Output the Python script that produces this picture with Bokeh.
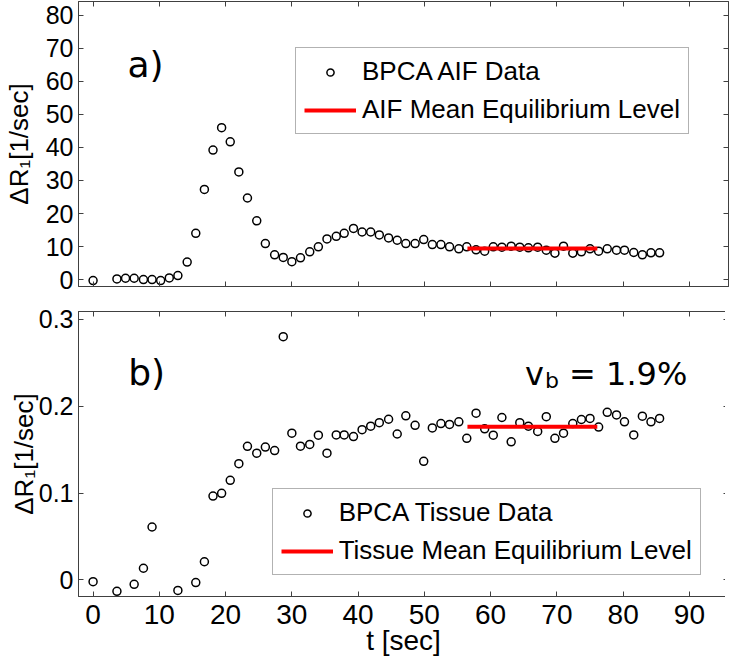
from bokeh.plotting import figure
from bokeh.models import (Range1d, LinearAxis, Legend, LegendItem, Label,
                          FixedTicker, CustomJSTickFormatter)
from bokeh.layouts import column
from bokeh.embed import file_html
from bokeh.resources import INLINE

# ---------------- data ----------------
t_aif = [0.0, 3.6, 4.9, 6.2, 7.6, 8.9, 10.2, 11.5, 12.8, 14.2, 15.5, 16.8, 18.1,
         19.4, 20.7, 22.0, 23.3, 24.7, 26.0, 27.4, 28.7, 30.0, 31.3, 32.7, 34.0,
         35.3, 36.7, 37.9, 39.3, 40.6, 41.9, 43.2, 44.6, 45.9, 47.2, 48.6, 49.9,
         51.2, 52.5, 53.8, 55.2, 56.4, 57.8, 59.1, 60.4, 61.7, 63.1, 64.4, 65.7,
         67.1, 68.4, 69.7, 71.0, 72.4, 73.7, 75.0, 76.3, 77.6, 79.0, 80.2, 81.6,
         82.9, 84.2, 85.5]
aif = [-0.3, 0.2, 0.4, 0.4, 0.0, 0.0, -0.3, 0.5, 1.2, 5.3, 14.0, 27.3, 39.2,
       46.0, 41.7, 32.6, 24.7, 17.8, 10.9, 7.5, 6.7, 5.4, 6.6, 8.4, 9.9,
       12.3, 13.1, 14.0, 15.5, 14.4, 14.4, 13.5, 12.6, 11.9, 10.9, 10.9, 12.1,
       10.6, 10.6, 9.9, 9.3, 9.9, 9.0, 8.6, 9.9, 9.8, 10.1, 9.8, 9.6,
       9.8, 8.9, 8.0, 10.1, 8.0, 8.4, 9.3, 8.6, 9.3, 8.9, 8.9, 8.2,
       7.5, 8.1, 8.1]

t_tis = [0.0, 3.6, 6.2, 7.6, 8.9, 12.8, 15.5, 16.8, 18.1, 19.4, 20.7, 22.0,
         23.3, 24.7, 26.0, 27.4, 28.7, 30.0, 31.3, 32.7, 34.0, 35.3, 36.7, 37.9,
         39.3, 40.6, 41.9, 43.2, 44.6, 45.9, 47.2, 48.6, 49.9, 51.2, 52.5, 53.8,
         55.2, 56.4, 57.8, 59.1, 60.4, 61.7, 63.1, 64.4, 65.7, 67.1, 68.4, 69.7,
         71.0, 72.4, 73.7, 75.0, 76.3, 77.6, 79.0, 80.2, 81.6, 82.9, 84.2, 85.5]
tis = [-0.002, -0.013, -0.005, 0.0135, 0.061, -0.012, -0.003, 0.021, 0.0966,
       0.0997, 0.1147, 0.1339, 0.1538, 0.146, 0.153, 0.149, 0.280, 0.169, 0.154,
       0.156, 0.1666, 0.146, 0.167, 0.167, 0.165, 0.173, 0.177, 0.181, 0.185,
       0.168, 0.189, 0.178, 0.1366, 0.175, 0.180, 0.179, 0.182, 0.163, 0.192,
       0.174, 0.1666, 0.187, 0.159, 0.181, 0.177, 0.171, 0.188, 0.163, 0.169,
       0.180, 0.1847, 0.186, 0.176, 0.193, 0.190, 0.182, 0.167, 0.1885, 0.182,
       0.186]

eq_t = [56.5, 76.1]
aif_eq = [9.4, 9.4]
tis_eq = [0.1764, 0.1764]

x_ticks = [0, 10, 20, 30, 40, 50, 60, 70, 80, 90]
aif_ticks = [0, 10, 20, 30, 40, 50, 60, 70, 80]
tis_ticks = [0, 0.1, 0.2, 0.3]

# ---------------- styling ----------------
FW, FH = 650, 285
AX = "#404040"
TICK_FONT = "Liberation Sans"
blank = CustomJSTickFormatter(code="return ''")
numfmt = CustomJSTickFormatter(code="return String(Math.round(tick*10)/10)")


def style_axis(ax, ticks, show_labels, size="25px", standoff=5):
    ax.ticker = FixedTicker(ticks=ticks)
    ax.major_tick_in = 5
    ax.major_tick_out = 0
    ax.minor_tick_line_color = None
    ax.axis_line_color = AX
    ax.major_tick_line_color = AX
    if show_labels:
        ax.formatter = numfmt
        ax.major_label_text_font = TICK_FONT
        ax.major_label_text_font_size = size
        ax.major_label_text_color = "black"
        ax.major_label_standoff = standoff
    else:
        ax.formatter = blank
        ax.major_label_text_font_size = "1px"
        ax.major_label_standoff = 0


def make_fig(yr, yticks, show_x, top_border, bottom_border, ylab_standoff):
    p = figure(frame_width=FW, frame_height=FH,
               x_range=Range1d(-2.2, 95.9), y_range=Range1d(*yr),
               output_backend="svg", toolbar_location=None,
               min_border_left=72, min_border_right=2,
               min_border_top=top_border, min_border_bottom=bottom_border,
               background_fill_color="white", border_fill_color="white")
    p.xgrid.visible = False
    p.ygrid.visible = False
    p.outline_line_color = AX
    style_axis(p.below[0], x_ticks, show_x, size="28px", standoff=8)
    left = p.left[0]
    style_axis(left, yticks, True)
    left.axis_label = "ΔR₁[1/sec]"
    left.axis_label_text_font = "Liberation Sans"
    left.axis_label_text_font_size = "26px"
    left.axis_label_text_font_style = "normal"
    left.axis_label_text_color = "black"
    left.axis_label_standoff = ylab_standoff
    top = LinearAxis()
    style_axis(top, x_ticks, False)
    p.add_layout(top, "above")
    right = LinearAxis()
    style_axis(right, yticks, False)
    p.add_layout(right, "right")
    return p


def make_legend(items, loc):
    return Legend(items=items, location=loc, margin=0, padding=8, spacing=7,
                  glyph_width=52, glyph_height=18, label_height=30,
                  label_standoff=6, label_text_font="Liberation Sans",
                  label_text_font_size="26px", label_text_color="black",
                  border_line_color="#666666", border_line_width=1,
                  background_fill_color="white")


def label(x, y, text, size, **kw):
    return Label(x=x, y=y, text=text, text_font="DejaVu Sans",
                 text_font_size=size, text_color="black",
                 text_baseline="alphabetic", **kw)


# ---------------- top panel ----------------
p1 = make_fig((-2.1, 84.2), aif_ticks, False, 1, 9, 9)
r1 = p1.scatter(t_aif, aif, marker="circle", size=8, fill_color=None,
                line_color="black", line_width=1.5)
r2 = p1.line(eq_t, aif_eq, line_color="red", line_width=4)
p1.add_layout(make_legend([LegendItem(label="BPCA AIF Data", renderers=[r1]),
                           LegendItem(label="AIF Mean Equilibrium Level", renderers=[r2])],
                          (217, 152)))
p1.add_layout(label(5.2, 65.0, "a)", "36px"))

# ---------------- bottom panel ----------------
p2 = make_fig((-0.019, 0.309), tis_ticks, True, 16, 0, -3)
xb = p2.below[0]
xb.axis_label = "t [sec]"
xb.axis_label_text_font = "Liberation Sans"
xb.axis_label_text_font_size = "28px"
xb.axis_label_text_font_style = "normal"
xb.axis_label_text_color = "black"
xb.axis_label_standoff = -2
r3 = p2.scatter(t_tis, tis, marker="circle", size=8, fill_color=None,
                line_color="black", line_width=1.5)
r4 = p2.line(eq_t, tis_eq, line_color="red", line_width=4)
p2.add_layout(make_legend([LegendItem(label="BPCA Tissue Data", renderers=[r3]),
                           LegendItem(label="Tissue Mean Equilibrium Level", renderers=[r4])],
                          (198, 21)))
p2.add_layout(label(5.3, 0.239, "b)", "36px"))
p2.add_layout(label(65.2, 0.237, "v", "32px"))
p2.add_layout(label(65.2, 0.237, "b", "22px", x_offset=20, y_offset=-6))
p2.add_layout(label(65.2, 0.237, "= 1.9%", "32px", x_offset=44))

layout = column(p1, p2, spacing=0)
open("out.html", "w").write(file_html(layout, INLINE))
